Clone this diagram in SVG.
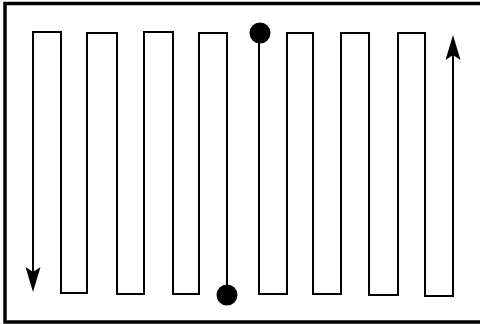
<svg xmlns="http://www.w3.org/2000/svg" width="480" height="324" viewBox="0 0 480 324">
  <style>
    .frame { fill: none; stroke: #000; stroke-width: 3.5; }
    .track { fill: none; stroke: #000; stroke-width: 2; stroke-linejoin: miter; }
    .dot { fill: #000; }
  </style>
  <defs>
    <marker id="stealth" markerUnits="userSpaceOnUse" viewBox="0 -8 26 16" refX="5" refY="0" markerWidth="26" markerHeight="16" orient="auto">
      <path d="M25,0 L0,-7.5 L5,0 L0,7.5 Z" fill="#000"/>
    </marker>
  </defs>
  <rect id="frame" class="frame" x="5" y="3.5" width="480" height="318.5"/>
  <g id="connectors">
    <path id="path-left" class="track" marker-end="url(#stealth)" d="M227,295 V33 H199 V294 H173 V32 H144 V294 H117 V33 H87 V293 H61 V32 H33 V272"/>
    <path id="path-right" class="track" marker-end="url(#stealth)" d="M259,33 V294 H287 V33 H313 V294 H341 V33 H369 V295 H398 V33 H425 V296 H453 V55"/>
  </g>
  <g id="start-bottom">
    <circle class="dot" cx="227" cy="295" r="10.5"/>
  </g>
  <g id="start-top">
    <circle class="dot" cx="260" cy="33" r="10.5"/>
  </g>
</svg>
